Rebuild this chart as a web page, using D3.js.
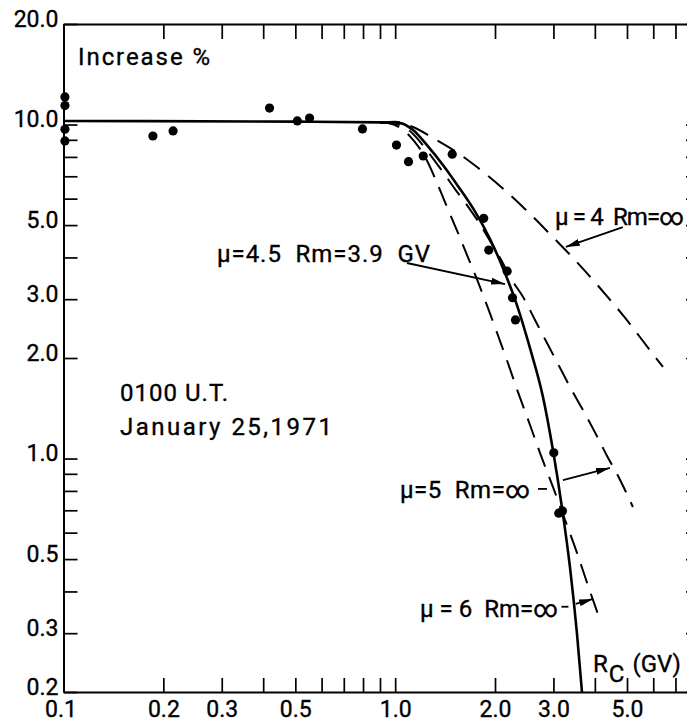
<!DOCTYPE html>
<html>
<head>
<meta charset="utf-8">
<script src="https://cdn.jsdelivr.net/npm/d3@7"></script>
<style>
body { margin: 0; background: #fff; }
text { font-family: Roboto, "DejaVu Sans", sans-serif; fill: #000; stroke: #000; stroke-width: 0.35px; }
</style>
</head>
<body>
<div id="chart"></div>
<script>
var width = 687,
height = 727;

// rigidity Rc (GV) / increase (%)
var dot_x = [0.101, 0.101, 0.101, 0.101, 0.186, 0.214, 0.418, 0.507, 0.552, 0.797, 1.009, 1.097, 1.215, 1.486, 1.849, 1.915, 2.176, 2.258, 2.305, 3.008, 3.113, 3.194];
var dot_y = [12.1, 11.4, 9.68, 8.93, 9.24, 9.57, 11.2, 10.25, 10.46, 9.70, 8.68, 7.74, 8.05, 8.15, 5.24, 4.21, 3.64, 3.03, 2.60, 1.04, 0.686, 0.697];

// mu=4.5 Rm=3.9 GV (solid)
var mu45_x = [0.1, 0.5, 0.9, 1.034, 1.132, 1.247, 1.393, 1.546, 1.729, 1.932, 2.113, 2.329, 2.550, 2.790, 2.99, 3.185, 3.365, 3.532, 3.658];
var mu45_y = [10.25, 10.2, 10.15, 10.1, 9.63, 8.68, 7.57, 6.55, 5.55, 4.54, 3.72, 2.88, 2.14, 1.53, 1.06, 0.711, 0.473, 0.30, 0.2];

// mu=4 Rm=inf (dashed)
var mu4_x = [0.9, 1.0, 1.132, 1.300, 1.515, 1.765, 2.070, 2.462, 2.929, 3.484, 4.145, 4.93, 5.865, 6.42];
var mu4_y = [10.15, 10.2, 9.83, 9.12, 8.33, 7.46, 6.55, 5.59, 4.70, 3.93, 3.24, 2.64, 2.11, 1.88];

// mu=5 Rm=inf (dashed)
var mu5_x = [0.9, 0.978, 1.124, 1.256, 1.393, 1.515, 1.646, 1.777, 1.932, 2.070, 2.250, 2.428, 2.640, 2.888, 3.14, 3.41, 3.68, 4.00, 4.35, 4.70, 5.21];
var mu5_y = [10.15, 10.1, 9.44, 8.28, 7.21, 6.41, 5.74, 5.14, 4.48, 3.99, 3.42, 3.05, 2.60, 2.19, 1.87, 1.60, 1.40, 1.20, 1.02, 0.887, 0.716];

// mu=6 Rm=inf (dashed)
var mu6_x = [0.9, 0.951, 1.048, 1.139, 1.230, 1.318, 1.413, 1.525, 1.646, 1.777, 1.905, 2.041, 2.188, 2.346, 2.550, 2.752, 2.99, 3.228, 3.51, 3.81, 4.145];
var mu6_y = [10.15, 10.1, 9.70, 8.93, 8.00, 6.92, 5.86, 4.90, 4.07, 3.38, 2.82, 2.34, 1.93, 1.58, 1.26, 1.02, 0.822, 0.668, 0.532, 0.418, 0.329];

// axis ticks and labels
var x_ticks = [0.1, 0.2, 0.3, 0.4, 0.5, 0.6, 0.7, 0.8, 0.9, 1, 2, 3, 4, 5, 6, 7, 8];
var x_labels = [0.1, 0.2, 0.3, 0.5, 1, 2, 3, 5];
var y_ticks = [0.2, 0.3, 0.4, 0.5, 0.6, 0.7, 0.8, 0.9, 1, 2, 3, 4, 5, 6, 7, 8, 9, 10, 20];
var y_labels = [0.2, 0.3, 0.5, 1, 2, 3, 5, 10, 20];

var svg = d3.select("#chart")
.append("svg")
.attr("width", width)
.attr("height", height)
.style("display", "block");

var xScale = d3.scaleLog()
.domain([0.1, 8.3])
.range([63.5, 700]);

var yScale = d3.scaleLog()
.domain([0.2, 20])
.range([692, 24]);

function fmt(list) {
	return function(d) {
		return list.indexOf(d) >= 0 ? d3.format(".1f")(d) : "";
	};
}

function styleAxis(g) {
	g.attr("font-family", null).attr("font-size", null);
	g.select(".domain").attr("stroke", "#000").attr("stroke-width", 2);
	g.selectAll(".tick line").attr("stroke", "#000").attr("stroke-width", 1.7);
	g.selectAll(".tick text").attr("font-size", "23px").attr("fill", "#000");
}

svg.append("g")
.attr("transform", "translate(0," + yScale(0.2) + ")")
.call(d3.axisBottom(xScale).tickValues(x_ticks).tickFormat(fmt(x_labels))
	.tickSizeInner(-14).tickSizeOuter(0).tickPadding(9))
.call(styleAxis)
.selectAll(".tick text").filter(function(d) { return d === 0.1; }).attr("dx", "-3");

svg.append("g")
.attr("transform", "translate(0," + yScale(20) + ")")
.call(d3.axisTop(xScale).tickValues(x_ticks).tickFormat("")
	.tickSizeInner(-15).tickSizeOuter(0))
.call(styleAxis);

svg.append("g")
.attr("transform", "translate(" + xScale(0.1) + ",0)")
.call(d3.axisLeft(yScale).tickValues(y_ticks).tickFormat(fmt(y_labels))
	.tickSizeInner(-14).tickSizeOuter(0).tickPadding(5))
.call(styleAxis)
.selectAll(".tick text").attr("dy", "0.1em");

svg.append("g")
.attr("transform", "translate(" + xScale(8.3) + ",0)")
.call(d3.axisRight(yScale).tickValues(y_ticks).tickFormat("")
	.tickSizeInner(-14).tickSizeOuter(0))
.call(styleAxis);

// curves
var line = d3.line()
.x(function(d) { return xScale(d[0]); })
.y(function(d) { return yScale(d[1]); })
.curve(d3.curveMonotoneX);

var dashed = [d3.zip(mu4_x, mu4_y), d3.zip(mu5_x, mu5_y), d3.zip(mu6_x, mu6_y)];

svg.selectAll(".dashed")
.data(dashed)
.enter()
.append("path")
.attr("class", "dashed")
.attr("d", line)
.attr("fill", "none")
.attr("stroke", "#000")
.attr("stroke-width", 2)
.attr("stroke-dasharray", "20,11");

svg.append("path")
.attr("d", line(d3.zip(mu45_x, mu45_y)))
.attr("fill", "none")
.attr("stroke", "#000")
.attr("stroke-width", 2.6);

// measured points
svg.selectAll(".dot")
.data(d3.zip(dot_x, dot_y))
.enter()
.append("circle")
.attr("class", "dot")
.attr("cx", function(d) { return xScale(d[0]); })
.attr("cy", function(d) { return yScale(d[1]); })
.attr("r", 4.6)
.attr("fill", "#000");

// annotation arrows, in data coordinates [x0, y0, x1, y1]
svg.append("defs").append("marker")
.attr("id", "head")
.attr("viewBox", "0 0 14 7")
.attr("refX", 14)
.attr("refY", 3.5)
.attr("markerWidth", 14)
.attr("markerHeight", 7)
.attr("markerUnits", "userSpaceOnUse")
.attr("orient", "auto")
.append("path")
.attr("d", "M0,0L14,3.5L0,7Z")
.attr("fill", "#000");

var arrows = [
	[1.085, 3.85, 2.143, 3.33],
	[4.86, 4.93, 3.27, 4.30],
	[3.205, 0.862, 4.44, 0.937],
	[3.504, 0.367, 3.95, 0.380]
];

svg.selectAll(".arrow")
.data(arrows)
.enter()
.append("line")
.attr("class", "arrow")
.attr("x1", function(d) { return xScale(d[0]); })
.attr("y1", function(d) { return yScale(d[1]); })
.attr("x2", function(d) { return xScale(d[2]); })
.attr("y2", function(d) { return yScale(d[3]); })
.attr("stroke", "#000")
.attr("stroke-width", 1.8)
.attr("marker-end", "url(#head)");

// little leader dashes after the mu=5 and mu=6 labels
var leaders = [
	[2.695, 0.811, 2.868, 0.811],
	[3.172, 0.360, 3.33, 0.360]
];

svg.selectAll(".leader")
.data(leaders)
.enter()
.append("line")
.attr("class", "leader")
.attr("x1", function(d) { return xScale(d[0]); })
.attr("y1", function(d) { return yScale(d[1]); })
.attr("x2", function(d) { return xScale(d[2]); })
.attr("y2", function(d) { return yScale(d[3]); })
.attr("stroke", "#000")
.attr("stroke-width", 1.8);

// text labels
var notes = [
	{t: "Increase %", x: 78, y: 65, w: 132},
	{t: "0100 U.T.", x: 120, y: 401, w: 108},
	{t: "January 25,1971", x: 120, y: 435, w: 212},
	{t: "\u03bc=4.5  Rm=3.9  GV", x: 217, y: 262, w: 213},
	{t: "\u03bc = 4  Rm=\u221e", x: 555, y: 225, w: 129},
	{t: "\u03bc=5  Rm=\u221e", x: 400, y: 498, w: 130},
	{t: "\u03bc = 6  Rm=\u221e", x: 420, y: 617, w: 138}
];

svg.selectAll(".note")
.data(notes)
.enter()
.append("text")
.attr("class", "note")
.attr("x", function(d) { return d.x; })
.attr("y", function(d) { return d.y; })
.attr("textLength", function(d) { return d.w; })
.attr("lengthAdjust", "spacing")
.attr("font-size", "24px")
.style("white-space", "pre")
.text(function(d) { return d.t; });

var rc = svg.append("text")
.attr("x", 593)
.attr("y", 672)
.attr("font-size", "24px");
rc.append("tspan").text("R");
rc.append("tspan").attr("dx", 1).attr("dy", 10).text("C");
rc.append("tspan").attr("dx", 8).attr("dy", -10).text("(GV)");
</script>
</body>
</html>
